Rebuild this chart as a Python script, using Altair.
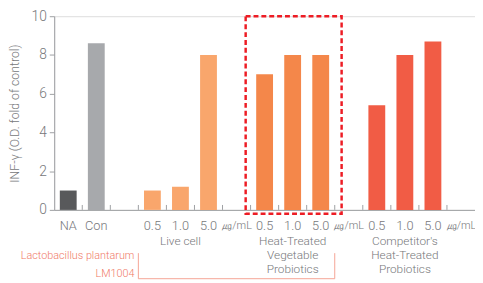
import altair as alt
import pandas as pd

slots = ["NA", "Con", "gap", "L0.5", "L1.0", "L5.0", "Lu", "H0.5", "H1.0", "H5.0", "Hu", "C0.5", "C1.0", "C5.0", "Cu"]
slot_labels = ["NA", "Con", "", "0.5", "1.0", "5.0", "㎍/mL", "0.5", "1.0", "5.0", "㎍/mL", "0.5", "1.0", "5.0", "㎍/mL"]

bar_slots = ["NA", "Con", "L0.5", "L1.0", "L5.0", "H0.5", "H1.0", "H5.0", "C0.5", "C1.0", "C5.0"]
bar_values = [1.0, 8.6, 1.0, 1.2, 8.0, 7.0, 8.0, 8.0, 5.4, 8.0, 8.7]
bar_groups = ["NA", "Con", "Live", "Live", "Live", "Heat", "Heat", "Heat", "Comp", "Comp", "Comp"]
group_names = ["NA", "Con", "Live", "Heat", "Comp"]
group_colors = ["#58595b", "#a7a9ac", "#f9a66c", "#f4874a", "#f15c45"]

y_ticks = [0, 2, 4, 6, 8, 10]

group_label_slots = ["L1.0", "H1.0", "C1.0"]
group_label_texts = [["Live cell"], ["Heat-Treated", "Vegetable", "Probiotics"], ["Competitor's", "Heat-Treated", "Probiotics"]]

label_expr = "{" + ",".join(f"'{s}':'{l}'" for s, l in zip(slots, slot_labels)) + "}[datum.value]"

W, H = 428, 197
FONT = "Roboto"
GRAY = "#76777a"
AX = "#9d9fa2"
YTITLE = "INF-γ (O.D. fold of control)"

xscale = alt.Scale(domain=slots, paddingInner=0, paddingOuter=0)
yscale = alt.Scale(domain=[0, 10], nice=False)

xaxis = alt.Axis(title=None, labelExpr=label_expr, labelAngle=0, ticks=False,
                 labelFont=FONT, labelColor=GRAY, labelFontWeight=300,
                 labelFontSize={"expr": "test(/u$/, datum.value) ? 11 : 13"},
                 labelPadding=10, domainColor=AX, labelOverlap=False)
yaxis = alt.Axis(title=YTITLE, values=y_ticks,
                 grid=False, labelFont=FONT, labelFontSize=14, labelColor=GRAY,
                 labelFontWeight=300, labelOverlap=False, labelPadding=3,
                 titleFont=FONT, titleFontSize=12.5, titleFontWeight=300,
                 titleColor=GRAY, titlePadding=10,
                 domainColor=AX, tickColor=AX, tickSize=5)

bars_df = pd.DataFrame({"slot": bar_slots, "value": bar_values, "group": bar_groups})

bars = alt.Chart(bars_df).mark_bar(width=alt.RelativeBandSize(0.6)).encode(
    x=alt.X("slot:N", scale=xscale, sort=slots, axis=xaxis),
    y=alt.Y("value:Q", scale=yscale, axis=yaxis),
    color=alt.Color("group:N", scale=alt.Scale(domain=group_names, range=group_colors), legend=None),
)

tick_df = pd.DataFrame({"slot": slots[1:]})
xticks = alt.Chart(tick_df).mark_rule(color=AX, strokeWidth=1).encode(
    x=alt.X("slot:N", scale=xscale, sort=slots, bandPosition=0, axis=xaxis),
    y=alt.value(H - 5),
    y2=alt.value(H),
)

box_df = pd.DataFrame({"start": ["H0.5"], "end": ["H5.0"], "top": [10.0], "bottom": [0.0]})
box = alt.Chart(box_df).mark_rect(
    filled=False, stroke="#ed1c24", strokeWidth=2.5, strokeDash=[5, 3],
    xOffset=-5, x2Offset=7, y2Offset=4,
).encode(
    x=alt.X("start:N", scale=xscale, sort=slots, bandPosition=0, axis=xaxis),
    x2=alt.X2("end:N", bandPosition=1),
    y=alt.Y("top:Q", scale=yscale, axis=yaxis),
    y2=alt.Y2("bottom:Q"),
)

glabel_df = pd.DataFrame({"slot": group_label_slots, "text": group_label_texts})
glabels = alt.Chart(glabel_df).mark_text(
    font=FONT, fontSize=12, color=GRAY, baseline="top", lineHeight=14, fontWeight=300
).encode(
    x=alt.X("slot:N", scale=xscale, sort=slots, axis=xaxis),
    y=alt.value(H + 27),
    text="text:N",
)

lacto_df = pd.DataFrame({"slot": ["L0.5"], "text": [["Lactobacillus plantarum", "LM1004"]]})
lacto = alt.Chart(lacto_df).mark_text(
    font=FONT, fontSize=11, color="#f07a68", baseline="top", align="right",
    lineHeight=18, dx=-4, fontWeight=300
).encode(
    x=alt.X("slot:N", scale=xscale, sort=slots, bandPosition=0, axis=xaxis),
    y=alt.value(H + 41),
    text="text:N",
)

br_color = "#f5a394"
bracket_v_left = alt.Chart(pd.DataFrame({"slot": ["L0.5"]})).mark_rule(color=br_color, strokeWidth=1).encode(
    x=alt.X("slot:N", scale=xscale, sort=slots, bandPosition=0, axis=xaxis),
    y=alt.value(H + 44), y2=alt.value(H + 70),
)
bracket_v_right = alt.Chart(pd.DataFrame({"slot": ["H5.0"]})).mark_rule(color=br_color, strokeWidth=1).encode(
    x=alt.X("slot:N", scale=xscale, sort=slots, bandPosition=1, axis=xaxis),
    y=alt.value(H + 44), y2=alt.value(H + 70),
)
bracket_h = alt.Chart(pd.DataFrame({"start": ["L0.5"], "end": ["H5.0"]})).mark_rule(
    color=br_color, strokeWidth=1
).encode(
    x=alt.X("start:N", scale=xscale, sort=slots, bandPosition=0, axis=xaxis),
    x2=alt.X2("end:N", bandPosition=1),
    y=alt.value(H + 70),
)

chart = alt.layer(
    bars, xticks, box, glabels, lacto, bracket_v_left, bracket_v_right, bracket_h
).properties(
    width=W, height=H,
    autosize=alt.AutoSizeParams(type="none"),
    padding={"left": 47, "top": 6, "right": 0, "bottom": 72},
).configure_view(stroke=None).configure(background="white")

chart.save("out.html", embed_options={"renderer": "svg", "actions": False})
